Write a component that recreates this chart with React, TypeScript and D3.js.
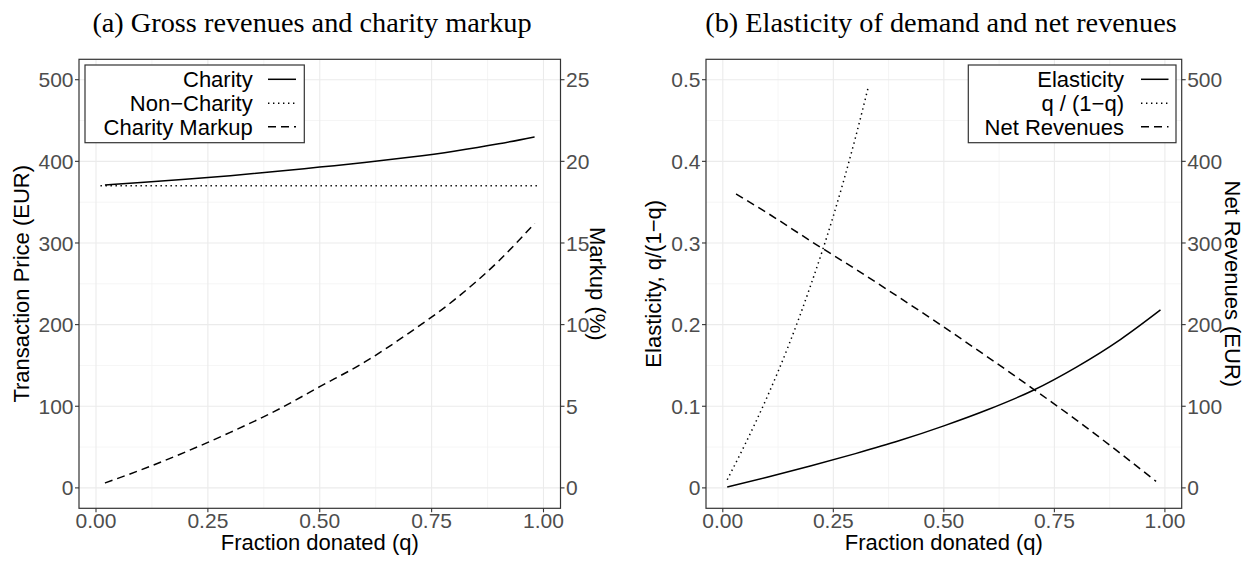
import React from "react";
import * as d3 from "d3";

// ---------- data ----------
const qCharity = [0.02, 0.1, 0.2, 0.3, 0.4, 0.5, 0.6, 0.7, 0.8, 0.9, 0.98];
const charityPrice = [371, 374, 378, 382.5, 387.5, 393, 398.5, 405, 412.5, 421.5, 430];
const qNonCharity = [0.01, 0.25, 0.5, 0.75, 0.99];
const nonCharityPrice = [370, 370, 370, 370, 370];
const charityMarkup = [0.3, 1.1, 2.2, 3.4, 4.7, 6.2, 7.7, 9.5, 11.5, 13.9, 16.2];

const qElasticity = [0.01, 0.1, 0.2, 0.3, 0.4, 0.5, 0.6, 0.7, 0.8, 0.9, 0.99];
const elasticity = [0.001, 0.013, 0.027, 0.042, 0.058, 0.076, 0.096, 0.119, 0.148, 0.182, 0.218];
const qRatio = [0.01, 0.05, 0.1, 0.15, 0.2, 0.25, 0.3, 0.33];
const ratio = [0.01, 0.053, 0.111, 0.176, 0.25, 0.333, 0.429, 0.493];
const qNet = [0.03, 0.1, 0.2, 0.3, 0.4, 0.5, 0.6, 0.7, 0.8, 0.9, 0.98];
const netRevenues = [360, 337, 302, 268, 233, 197, 160, 122, 83, 42, 8];

const xTicks = [0, 0.25, 0.5, 0.75, 1];
const xTickLabels = ["0.00", "0.25", "0.50", "0.75", "1.00"];
const priceTicks = [0, 100, 200, 300, 400, 500];
const markupTicks = [0, 5, 10, 15, 20, 25];
const elastTicks = [0, 0.1, 0.2, 0.3, 0.4, 0.5];
const elastTickLabels = ["0", "0.1", "0.2", "0.3", "0.4", "0.5"];
const netTicks = [0, 100, 200, 300, 400, 500];

const titleA = "(a) Gross revenues and charity markup";
const titleB = "(b) Elasticity of demand and net revenues";

// ---------- style ----------
const SANS = "'Liberation Sans', Arial, Helvetica, sans-serif";
const SERIF = "'Liberation Serif', 'Times New Roman', serif";
const TICK_COLOR = "#4D4D4D";
const BORDER = "#333333";
const GRID = "#EBEBEB";
const GRID_MINOR = "#F2F2F2";
const DASH = "8,5";
const DOT = "1.4,3.6";

type Series = { q: number[]; v: number[]; axis: "left" | "right"; dash?: string };
type LegendItem = { label: string; dash?: string };

type PanelProps = {
  x0: number;
  x1: number;
  y0: number;
  y1: number;
  leftDomain: [number, number];
  rightDomain: [number, number];
  leftTicks: number[];
  leftTickLabels: string[];
  rightTicks: number[];
  rightTickLabels: string[];
  leftTitle: string;
  leftTitleX: number;
  rightTitle: string;
  rightTitleX: number;
  series: Series[];
  legend: LegendItem[];
  legendBox: { x: number; w: number; textRight: number; keyX0: number; keyX1: number };
  title: string;
  titleX: number;
};

function Panel(p: PanelProps) {
  const x = d3.scaleLinear().domain([-0.038, 1.038]).range([p.x0, p.x1]);
  const yL = d3.scaleLinear().domain(p.leftDomain).range([p.y1, p.y0]);
  const yR = d3.scaleLinear().domain(p.rightDomain).range([p.y1, p.y0]);

  const minorX = xTicks.slice(0, -1).map((t, i) => (t + xTicks[i + 1]) / 2);
  const minorY = p.leftTicks.slice(0, -1).map((t, i) => (t + p.leftTicks[i + 1]) / 2);

  const lineFor = (s: Series) => {
    const y = s.axis === "left" ? yL : yR;
    const pts = s.q.map((q, i) => [q, s.v[i]] as [number, number]);
    return d3
      .line<[number, number]>()
      .x((d) => x(d[0]))
      .y((d) => y(d[1]))
      .curve(d3.curveMonotoneX)(pts) as string;
  };

  const midY = (p.y0 + p.y1) / 2;
  const midX = (p.x0 + p.x1) / 2;
  const rowY = [79.3, 103.2, 126.8];

  return (
    <g>
      <text x={p.titleX} y={32} textAnchor="middle" fontFamily={SERIF} fontSize={28.3} fill="#000">
        {p.title}
      </text>
      {/* minor grid */}
      {minorX.map((t) => (
        <line key={"mx" + t} x1={x(t)} x2={x(t)} y1={p.y0} y2={p.y1} stroke={GRID_MINOR} strokeWidth={0.8} />
      ))}
      {minorY.map((t) => (
        <line key={"my" + t} x1={p.x0} x2={p.x1} y1={yL(t)} y2={yL(t)} stroke={GRID_MINOR} strokeWidth={0.8} />
      ))}
      {/* major grid */}
      {xTicks.map((t) => (
        <line key={"gx" + t} x1={x(t)} x2={x(t)} y1={p.y0} y2={p.y1} stroke={GRID} strokeWidth={1.1} />
      ))}
      {p.leftTicks.map((t) => (
        <line key={"gy" + t} x1={p.x0} x2={p.x1} y1={yL(t)} y2={yL(t)} stroke={GRID} strokeWidth={1.1} />
      ))}
      {/* data */}
      {p.series.map((s, i) => (
        <path
          key={"s" + i}
          d={lineFor(s)}
          fill="none"
          stroke="#000"
          strokeWidth={1.5}
          strokeDasharray={s.dash}
        />
      ))}
      {/* border */}
      <rect x={p.x0} y={p.y0} width={p.x1 - p.x0} height={p.y1 - p.y0} fill="none" stroke={BORDER} strokeWidth={1.2} />
      {/* x axis */}
      {xTicks.map((t, i) => (
        <g key={"xt" + t}>
          <line x1={x(t)} x2={x(t)} y1={p.y1} y2={p.y1 + 4} stroke={BORDER} strokeWidth={1.1} />
          <text x={x(t)} y={528} textAnchor="middle" fontFamily={SANS} fontSize={21} fill={TICK_COLOR}>
            {xTickLabels[i]}
          </text>
        </g>
      ))}
      <text x={midX} y={550} textAnchor="middle" fontFamily={SANS} fontSize={22} fill="#000">
        Fraction donated (q)
      </text>
      {/* left axis */}
      {p.leftTicks.map((t, i) => (
        <g key={"yl" + t}>
          <line x1={p.x0 - 4} x2={p.x0} y1={yL(t)} y2={yL(t)} stroke={BORDER} strokeWidth={1.1} />
          <text x={p.x0 - 5.5} y={yL(t)} dy="0.36em" textAnchor="end" fontFamily={SANS} fontSize={21} fill={TICK_COLOR}>
            {p.leftTickLabels[i]}
          </text>
        </g>
      ))}
      <text
        transform={`translate(${p.leftTitleX},${midY}) rotate(-90)`}
        textAnchor="middle"
        fontFamily={SANS}
        fontSize={22}
        fill="#000"
      >
        {p.leftTitle}
      </text>
      {/* right axis */}
      {p.rightTicks.map((t, i) => (
        <g key={"yr" + t}>
          <line x1={p.x1} x2={p.x1 + 4} y1={yR(t)} y2={yR(t)} stroke={BORDER} strokeWidth={1.1} />
          <text x={p.x1 + 5.5} y={yR(t)} dy="0.36em" textAnchor="start" fontFamily={SANS} fontSize={21} fill={TICK_COLOR}>
            {p.rightTickLabels[i]}
          </text>
        </g>
      ))}
      <text
        transform={`translate(${p.rightTitleX},${midY}) rotate(90)`}
        textAnchor="middle"
        fontFamily={SANS}
        fontSize={22}
        fill="#000"
      >
        {p.rightTitle}
      </text>
      {/* legend */}
      <rect x={p.legendBox.x} y={65} width={p.legendBox.w} height={77.7} fill="#fff" stroke={BORDER} strokeWidth={1.2} />
      {p.legend.map((l, i) => (
        <g key={"lg" + i}>
          <text x={p.legendBox.textRight} y={rowY[i]} dy="0.36em" textAnchor="end" fontFamily={SANS} fontSize={22} fill="#000">
            {l.label}
          </text>
          <line
            x1={p.legendBox.keyX0}
            x2={p.legendBox.keyX1}
            y1={rowY[i]}
            y2={rowY[i]}
            stroke="#000"
            strokeWidth={1.5}
            strokeDasharray={l.dash}
          />
        </g>
      ))}
    </g>
  );
}

export default function App() {
  return (
    <svg
      width={1248}
      height={561}
      style={{ position: "absolute", left: 0, top: 0, background: "#fff" }}
    >
      <rect x={0} y={0} width={1248} height={561} fill="#fff" />
      <Panel
        x0={79}
        x1={560.5}
        y0={59.3}
        y1={508.3}
        leftDomain={[-25, 525]}
        rightDomain={[-1.25, 26.25]}
        leftTicks={priceTicks}
        leftTickLabels={priceTicks.map(String)}
        rightTicks={markupTicks}
        rightTickLabels={markupTicks.map(String)}
        leftTitle={"Transaction Price (EUR)"}
        leftTitleX={29}
        rightTitle={"Markup (%)"}
        rightTitleX={590}
        series={[
          { q: qCharity, v: charityPrice, axis: "left" },
          { q: qNonCharity, v: nonCharityPrice, axis: "left", dash: DOT },
          { q: qCharity, v: charityMarkup, axis: "right", dash: DASH },
        ]}
        legend={[
          { label: "Charity" },
          { label: "Non\u2212Charity", dash: DOT },
          { label: "Charity Markup", dash: DASH },
        ]}
        legendBox={{ x: 85, w: 219.3, textRight: 252.7, keyX0: 268, keyX1: 296 }}
        title={titleA}
        titleX={312}
      />
      <Panel
        x0={706}
        x1={1181.7}
        y0={59.3}
        y1={508.3}
        leftDomain={[-0.025, 0.525]}
        rightDomain={[-25, 525]}
        leftTicks={elastTicks}
        leftTickLabels={elastTickLabels}
        rightTicks={netTicks}
        rightTickLabels={netTicks.map(String)}
        leftTitle={"Elasticity, q/(1\u2212q)"}
        leftTitleX={661}
        rightTitle={"Net Revenues (EUR)"}
        rightTitleX={1225}
        series={[
          { q: qElasticity, v: elasticity, axis: "left" },
          { q: qRatio, v: ratio, axis: "left", dash: DOT },
          { q: qNet, v: netRevenues, axis: "right", dash: DASH },
        ]}
        legend={[
          { label: "Elasticity" },
          { label: "q / (1\u2212q)", dash: DOT },
          { label: "Net Revenues", dash: DASH },
        ]}
        legendBox={{ x: 968.3, w: 207.7, textRight: 1124, keyX0: 1141, keyX1: 1168.5 }}
        title={titleB}
        titleX={941}
      />
    </svg>
  );
}
